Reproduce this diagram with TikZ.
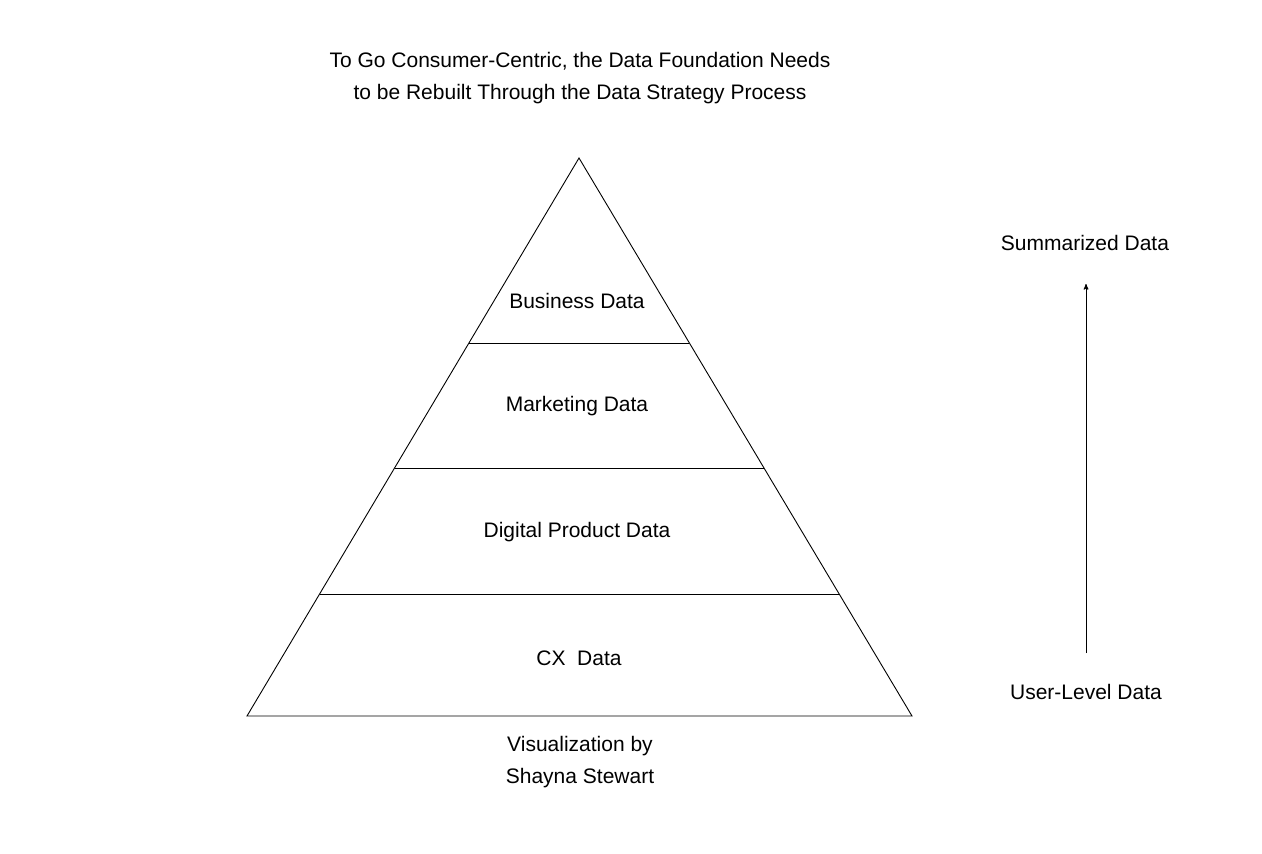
\documentclass[tikz,border=0pt]{standalone}
\usepackage{fontspec}
\setmainfont{Liberation Sans}
\usetikzlibrary{arrows,positioning,calc}
\tikzstyle{lbl}=[inner sep=0pt, font=\fontsize{21}{32}\selectfont, align=center]
\tikzstyle{lyr}=[draw=black, line width=0.9pt]
\begin{document}
\begin{tikzpicture}
[x=1pt, y=-1pt, line width=0.9pt]
 \useasboundingbox (0,0) rectangle (1262,854);
 \coordinate (top) at (579,158);
 \coordinate (bl) at (247,716);
 \coordinate (br) at (912,716);
 \coordinate (l1) at ($(top)!0.3315!(bl)$);
 \coordinate (r1) at ($(top)!0.3315!(br)$);
 \coordinate (l2) at ($(top)!0.5556!(bl)$);
 \coordinate (r2) at ($(top)!0.5556!(br)$);
 \coordinate (l3) at ($(top)!0.7814!(bl)$);
 \coordinate (r3) at ($(top)!0.7814!(br)$);
 \draw[lyr] (top) -- (bl) -- (br) -- cycle;
 \draw[lyr] (l1) -- (r1);
 \draw[lyr] (l2) -- (r2);
 \draw[lyr] (l3) -- (r3);
 \node[lbl] (title) at (580,78) {To Go Consumer-Centric, the Data Foundation Needs\\to be Rebuilt Through the Data Strategy Process};
 \node[lbl] (bus) at (577,301) {Business Data};
 \node[lbl] (mkt) at (577,406) {Marketing Data};
 \node[lbl] (dig) at (577,532) {Digital Product Data};
 \node[lbl] (cx) at (579,658) {CX\ \ Data};
 \node[lbl] (viz) at (580,762) {Visualization by\\Shayna Stewart};
 \node[lbl] (sum) at (1085,243) {Summarized Data};
 \node[lbl] (usr) at (1086,692) {User-Level Data};
 \coordinate (a0) at (1086,653);
 \coordinate (a1) at (1086,284);
 \draw[-stealth', line width=1pt] (a0) -- (a1);
\end{tikzpicture}
\end{document}
